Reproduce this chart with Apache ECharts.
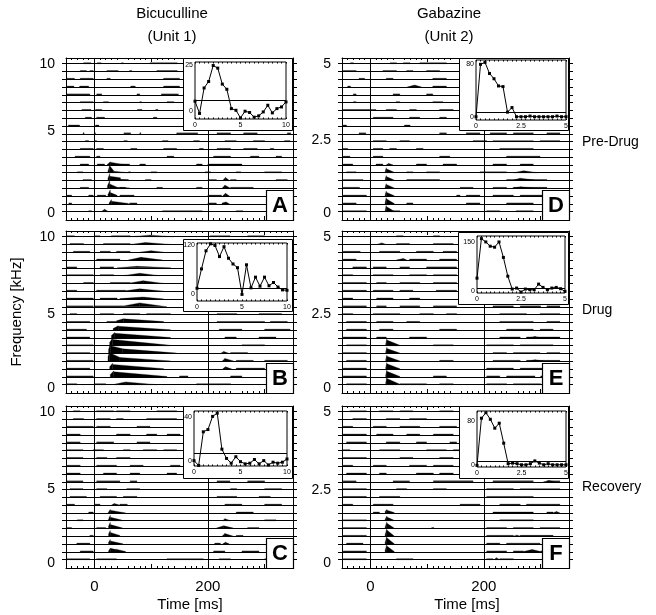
<!DOCTYPE html>
<html>
<head>
<meta charset="utf-8">
<script src="https://cdn.jsdelivr.net/npm/echarts@6/dist/echarts.min.js"></script>
<style>
html, body { margin: 0; padding: 0; background: #fff; }
#chart { width: 656px; height: 615px; }
</style>
</head>
<body>
<div id="chart"></div>
<script>
// trace index 0 = lowest frequency (bottom line of a panel)
const traceIds = [0, 1, 2, 3, 4, 5, 6, 7, 8, 9, 10, 11, 12, 13, 14, 15, 16, 17, 18, 19];
const vlineTimes = [0, 200];
const xTickMajor = [0, 100, 200, 300];
const xTickText = [0, 200];
const yTextLeft = ['0', '5', '10'];
const yTextRight = ['0', '2.5', '5'];

// small spike-count dashes per trace: [t0, t1, t0, t1, ...] in ms
const dashA = [
  [-10, -5, 120, 190, 250, 262],
  [-45, -40, 62, 75, 200, 215],
  [-50, -40, -10, -2, 5, 20, 45, 70, 200, 224],
  [-25, -10, 45, 55, 110, 120, 180, 190, 240, 280],
  [-20, -5, 45, 60, 90, 100, 200, 215, 240, 250, 320, 340],
  [-30, -20, 60, 64, 100, 110, 195, 205, 250, 258, 300, 330],
  [-25, -10, 5, 18, 40, 62, 80, 90, 180, 190, 200, 260],
  [-34, -8, 4, 10, 128, 140, 210, 240, 275, 290, 320, 330],
  [-25, -2, 4, 16, 64, 75, 122, 145, 185, 192, 216, 240, 263, 287, 310, 316],
  [-16, -10, 0, 4, 52, 58, 120, 130, 175, 185, 230, 250, 280, 300, 335, 345],
  [-20, -18, 0, 2, 52, 64, 80, 82, 145, 182, 216, 240, 263, 287, 340, 346],
  [-46, -26, 2, 8],
  [-16, -5, 4, 18, 104, 110],
  [-22, -6, 2, 13, 76, 84, 108, 112],
  [-25, -2, 16, 25, 80, 83, 128, 140],
  [-49, -8, 4, 13, 75, 80, 118, 148],
  [-48, -36, -26, -10, 64, 72, 122, 150],
  [-49, -35, -25, -2, 22, 28, 122, 150],
  [-25, -14, -8, -2, 22, 42, 62, 66, 110, 146],
  [-19, -6, 5, 12, 48, 51, 98, 146]
];
const dashB = [
  [-49, -31, 0, 20, 180, 240],
  [-49, -2, 150, 165, 240, 260],
  [-49, -8, 250, 300],
  [-49, -2, 250, 280, 300, 340],
  [-49, -8, 240, 270],
  [-49, -2, 260, 300],
  [-49, -8, 230, 250, 290, 320],
  [-49, -14, 220, 260, 300, 345],
  [-49, -8, 22, 39, 216, 300, 310, 340],
  [-43, -31, 10, 34, 51, 80, 92, 134, 216, 251, 290, 330],
  [-49, -2, 0, 51],
  [-49, -2, 10, 40],
  [-49, -31, 4, 55],
  [-19, -2, 28, 63],
  [-49, -2, 10, 34],
  [-49, -31, 10, 34],
  [4, 45],
  [-37, -8, 10, 28, 39, 63],
  [-43, -19, 16, 63],
  [-49, -35, 0, 10, 30, 63, 204, 239, 270, 300]
];
const dashC = [
  [-49, -8, 4, 39, 128, 192, 220, 240, 300, 330],
  [-25, -2, 210, 230, 260, 290],
  [-31, -8, 212, 222],
  [-8, -2, 250, 262],
  [-49, -40, 4, 20, 270, 290],
  [-30, -20, 300, 320],
  [-10, -2, 250, 280],
  [-49, -35, 0, 10, 45, 58, 230, 260, 300, 330],
  [-43, -14, 10, 39, 51, 75, 216, 251, 290, 310],
  [-43, -20, 4, 22, 57, 80, 240, 251, 300, 330],
  [-49, -20, 4, 45, 63, 75, 216, 239, 270, 300],
  [-49, -25, 16, 39, 63, 80, 128, 145],
  [-49, -25, 4, 39, 63, 86, 134, 151],
  [-49, -20, 4, 22, 39, 63],
  [-49, -20, -2, 16, 51, 63, 86, 110, 122, 145],
  [-49, -25, 4, 34, 75, 98],
  [-49, -25, 39, 63, 92, 110, 128, 151],
  [-49, -2, 4, 28, 75, 98],
  [-37, -19, 4, 28, 39, 51, 92, 145],
  [-37, -25, 4, 34, 39, 63, 110, 145]
];
const dashD = [
  [-48, -7, 40, 52, 205, 228, 257, 287],
  [-48, -25, 64, 75, 169, 193, 240, 287],
  [-48, -7, 152, 158, 169, 193, 216, 252, 264, 311],
  [-48, -19, 158, 181, 216, 240, 252, 311],
  [-48, -13, 64, 122, 240, 311],
  [-42, -25, 64, 75, 99, 122, 193, 240],
  [-48, -31, 10, 22, 81, 99, 128, 152, 216, 240, 264, 287],
  [-48, -36, 5, 22, 122, 140, 240, 299],
  [-48, -40, 5, 22, 34, 46, 81, 93, 228, 287],
  [5, 28, 52, 69, 181, 205, 216, 287, 299, 334],
  [-20, -8, 122, 134, 169, 193, 211, 240, 252, 287, 311, 334],
  [-48, -42, 60, 70],
  [5, 40, 69, 87, 122, 134],
  [-48, 10, 28, 46, 69, 81, 122, 146],
  [-30, -25, 45, 52, 110, 128],
  [-30, -25, 40, 52, 99, 110],
  [-40, -35, 110, 134],
  [-20, -10, 28, 40, 110, 134],
  [-48, -25, 22, 46, 64, 75, 99, 122],
  [-35, -30, 35, 46, 58, 70, 87, 134]
];
const dashE = [
  [-42, -7, 52, 99, 122, 146, 205, 240, 252, 300, 311, 334],
  [-48, -7, 111, 134, 205, 228, 240, 290, 300, 334],
  [-48, -7, 205, 252, 264, 311, 322, 334],
  [-42, -7, 122, 146, 216, 264, 275, 334],
  [-48, -7, 216, 240, 252, 299, 311, 334],
  [-42, -7, 111, 146, 205, 252, 264, 322],
  [-48, -7, 11, 28, 69, 99, 228, 264, 275, 334],
  [-42, -7, 16, 40, 122, 152, 240, 287, 299, 322],
  [-42, -7, 11, 40, 64, 87, 228, 287, 311, 334],
  [-48, -31, 5, 52, 87, 111, 134, 152, 228, 275, 299, 334],
  [-48, -7, 11, 28, 52, 87, 111, 152, 216, 252, 264, 300, 311, 334],
  [-48, -31, 11, 40, 69, 87],
  [-48, -7, 5, 40, 52, 75, 116, 152],
  [-48, -7, 11, 28, 52, 87, 111, 152],
  [-48, -31, 5, 40, 69, 99, 111, 152],
  [-31, -7, 5, 28, 52, 69, 99, 152],
  [-48, -25, 69, 99, 122, 152],
  [-48, -18, 16, 52, 81, 111, 128, 152],
  [46, 69, 111, 146],
  [46, 58, 111, 122]
];
const dashF = [
  [-48, -7, 46, 75, 205, 216, 228, 252],
  [-48, -7, 205, 240, 252, 270, 300, 310],
  [-42, -13, 205, 228, 240, 299],
  [-48, -7, 205, 252, 264, 322],
  [-48, -7, 108, 112, 205, 240, 252, 287, 299, 334],
  [-48, -7, 228, 287],
  [5, 16, 216, 287, 311, 322],
  [-48, -31, 5, 40, 158, 193, 228, 264, 275, 334],
  [-48, -7, 16, 52, 205, 287],
  [-48, -7, 46, 64, 111, 134, 205, 252, 264, 334],
  [-48, -25, 40, 69, 111, 181, 216, 287, 311, 334],
  [-42, -7, 16, 28, 81, 111, 122, 146],
  [-48, -31, 5, 28, 69, 99, 111, 146],
  [-48, -7, 52, 75, 122, 146],
  [-48, -36, 16, 52, 99, 134, 146, 158],
  [-42, -7, 28, 52, 81, 99, 140, 152],
  [-48, -7, 11, 40, 64, 87, 111, 146],
  [-48, -31, 5, 28, 52, 87, 122, 152],
  [-31, -7, 28, 52, 69, 99],
  [-36, -7, 16, 40, 52, 75, 122, 146]
];

// response shapes: [trace, t0, t1, height at t0, height at t1] (height in trace spacings)
const peakA = [
  [0, 12, 18, 0, 0.3], [0, 18, 25, 0.3, 0],
  [1, 26, 30, 0.1, 0.55], [1, 30, 60, 0.35, 0.05], [1, 225, 232, 0.1, 0.25], [1, 232, 238, 0.25, 0],
  [2, 24, 28, 0.2, 0.8], [2, 28, 40, 0.45, 0.1], [2, 226, 231, 0, 0.35], [2, 231, 238, 0.35, 0],
  [3, 23, 27, 0.3, 1.0], [3, 27, 40, 0.55, 0.15], [3, 40, 62, 0.12, 0.05], [3, 225, 230, 0, 0.4], [3, 230, 240, 0.4, 0],
  [4, 24, 27, 0.3, 0.9], [4, 27, 46, 0.55, 0.35], [4, 46, 60, 0.12, 0.05], [4, 226, 231, 0, 0.4], [4, 231, 238, 0.4, 0],
  [5, 24, 27, 0.2, 0.95], [5, 27, 34, 0.9, 0.25], [5, 34, 60, 0.2, 0],
  [6, 22, 28, 0, 0.4], [6, 28, 55, 0.35, 0]
];
const peakB = [
  [0, 35, 55, 0.05, 0.35], [0, 55, 110, 0.35, 0],
  [1, 28, 34, 0.3, 0.75], [1, 34, 128, 0.65, 0.05],
  [2, 27, 32, 0.3, 0.75], [2, 32, 122, 0.6, 0.05], [2, 226, 231, 0, 0.3], [2, 231, 242, 0.3, 0],
  [3, 24, 27, 0.6, 1.3], [3, 27, 45, 1.1, 0.5], [3, 45, 134, 0.5, 0.05], [3, 225, 230, 0, 0.35], [3, 230, 245, 0.35, 0.05],
  [4, 25, 28, 0.5, 1.2], [4, 28, 50, 1.0, 0.6], [4, 50, 145, 0.6, 0.05], [4, 222, 228, 0, 0.25], [4, 228, 238, 0.25, 0],
  [5, 27, 32, 0.4, 1.0], [5, 32, 134, 0.8, 0.05],
  [6, 30, 36, 0.3, 0.7], [6, 36, 134, 0.6, 0.05],
  [7, 33, 42, 0.2, 0.55], [7, 42, 134, 0.5, 0.05],
  [8, 39, 51, 0.2, 0.45], [8, 51, 122, 0.45, 0.1],
  [10, 51, 80, 0.1, 0.5], [10, 80, 128, 0.5, 0],
  [11, 45, 86, 0.05, 0.25], [11, 86, 122, 0.25, 0],
  [12, 55, 80, 0.05, 0.3], [12, 80, 122, 0.3, 0],
  [13, 63, 86, 0.05, 0.35], [13, 86, 122, 0.35, 0],
  [14, 50, 80, 0, 0.3], [14, 80, 115, 0.3, 0],
  [15, 40, 75, 0, 0.2], [15, 75, 135, 0.2, 0],
  [16, 60, 82, 0, 0.35], [16, 82, 120, 0.35, 0],
  [17, 80, 100, 0, 0.2], [17, 100, 122, 0.2, 0],
  [18, 63, 90, 0, 0.25], [18, 90, 135, 0.25, 0],
  [19, 63, 98, 0, 0.2], [19, 98, 140, 0.2, 0]
];
const peakC = [
  [1, 25, 28, 0.1, 0.45], [1, 28, 38, 0.45, 0.3], [1, 38, 55, 0.35, 0.05],
  [2, 25, 28, 0.2, 0.6], [2, 28, 50, 0.4, 0.05], [2, 226, 231, 0, 0.25], [2, 231, 238, 0.25, 0],
  [3, 25, 28, 0.3, 0.75], [3, 28, 45, 0.5, 0.1], [3, 225, 230, 0, 0.35], [3, 230, 245, 0.35, 0],
  [4, 25, 28, 0.3, 0.8], [4, 28, 50, 0.5, 0.05], [4, 215, 228, 0.05, 0.35], [4, 228, 245, 0.35, 0.05],
  [5, 25, 28, 0.2, 0.7], [5, 28, 50, 0.45, 0.05], [5, 226, 230, 0, 0.25], [5, 230, 240, 0.25, 0],
  [6, 24, 28, 0, 0.45], [6, 28, 55, 0.35, 0],
  [7, 30, 35, 0, 0.2], [7, 35, 45, 0.2, 0]
];
const peakD = [
  [0, 26, 28, 0.1, 0.8], [0, 28, 42, 0.65, 0.05],
  [1, 26, 28, 0.1, 0.8], [1, 28, 42, 0.65, 0.05],
  [2, 26, 28, 0.1, 0.65], [2, 28, 42, 0.5, 0.05],
  [3, 26, 28, 0.1, 0.6], [3, 28, 42, 0.5, 0.05],
  [4, 26, 28, 0.1, 0.65], [4, 28, 42, 0.5, 0.05],
  [5, 26, 28, 0.1, 0.65], [5, 28, 42, 0.5, 0.05],
  [6, 28, 32, 0, 0.2], [6, 32, 40, 0.2, 0],
  [16, 65, 78, 0, 0.25], [16, 78, 90, 0.25, 0],
  [5, 252, 270, 0, 0.25], [5, 270, 295, 0.25, 0],
  [4, 252, 264, 0.05, 0.3], [4, 264, 290, 0.3, 0.05],
  [3, 250, 265, 0, 0.2], [3, 265, 290, 0.2, 0]
];
const peakE = [
  [0, 27, 29, 0.2, 1.0], [0, 29, 52, 0.8, 0.05],
  [1, 27, 29, 0.2, 0.9], [1, 29, 52, 0.72, 0.05],
  [2, 27, 29, 0.2, 0.85], [2, 29, 52, 0.68, 0.05],
  [3, 27, 29, 0.2, 0.8], [3, 29, 52, 0.64, 0.05],
  [4, 27, 29, 0.2, 0.8], [4, 29, 52, 0.64, 0.05],
  [5, 27, 29, 0.2, 0.9], [5, 29, 52, 0.72, 0.05],
  [16, 46, 58, 0, 0.2], [16, 58, 64, 0.2, 0],
  [18, 11, 20, 0, 0.2], [18, 20, 28, 0.2, 0],
  [6, 280, 290, 0, 0.2], [6, 290, 300, 0.2, 0],
  [3, 280, 290, 0.05, 0.2], [3, 290, 305, 0.2, 0.05]
];
const peakF = [
  [1, 26, 29, 0.2, 0.95], [1, 29, 42, 0.76, 0.05],
  [2, 26, 29, 0.2, 1.0], [2, 29, 42, 0.8, 0.05],
  [3, 26, 29, 0.2, 1.0], [3, 29, 42, 0.8, 0.05],
  [4, 26, 29, 0.2, 0.85], [4, 29, 42, 0.68, 0.05],
  [5, 26, 29, 0.2, 0.6], [5, 29, 42, 0.48, 0.05],
  [6, 26, 29, 0.2, 0.45], [6, 29, 42, 0.36, 0.05],
  [0, 218, 222, 0, 0.25], [0, 222, 228, 0.25, 0],
  [1, 270, 285, 0.05, 0.3], [1, 285, 300, 0.3, 0.05],
  [3, 252, 258, 0, 0.15], [3, 258, 265, 0.15, 0],
  [6, 322, 328, 0, 0.2], [6, 328, 334, 0.2, 0],
  [10, 305, 315, 0, 0.15], [10, 315, 325, 0.15, 0]
];

// insets
const insetX10 = [0, 0.5, 1, 1.5, 2, 2.5, 3, 3.5, 4, 4.5, 5, 5.5, 6, 6.5, 7, 7.5, 8, 8.5, 9, 9.5, 10];
const insetX5 = [0, 0.25, 0.5, 0.75, 1, 1.25, 1.5, 1.75, 2, 2.25, 2.5, 2.75, 3, 3.25, 3.5, 3.75, 4, 4.25, 4.5, 4.75, 5];
const insetA = [5.4, -1.2, 12.5, 16, 24.6, 23.2, 14.6, 11.8, 1.4, 0.5, -3.6, 0, -0.7, -3.2, -2.5, -0.4, 3.2, -0.9, 1.4, 2.3, 5];
const insetB = [14, 61, 105, 122, 118, 91, 115, 87, 73, 64, -1, 71, 15, 41, 19, 41, 20, 28, 17, 10, 9];
const insetC = [0, -4.5, 26.7, 28.8, 41, 44, 10.6, 2, -2.4, 3.6, -1, -3, -2.4, 1, -3, 0, -4, -1.5, -2.4, -1.5, 1.5];
const insetD = [0, 80, 83, 66, 58, 47, 46, 7, 14, 0, 0, 0, 1, 0, 0, 0, 0, 0, 1, 0, 0];
const insetE = [40, 160, 150, 137, 134, 150, 103, 46, 7, 10, -2, 7, 5, 5, 22, 12, 5, 10, 12, 8, 0];
const insetF = [0, 85, 95, 83, 67, 76, 40, 3, 4, 3, 1, 1, 3, 8, 4, 1, 3, 1, 1, 1, 1];
const insetBase = { A: 6.1, B: 14, C: 7, D: 6.1, E: 9.1, F: 7 };
const insetYText = { A: [0, 25], B: [0, 120], C: [0, 40], D: [0, 80], E: [0, 150], F: [0, 80] };
const insetXText10 = [0, 5, 10];
const insetXText5 = [0, 2.5, 5];

const FONT = '"Liberation Sans", Arial, Helvetica, sans-serif';
const X_MIN = -50, X_MAX = 350;
const Y_MIN = -1.07, Y_MAX = 19.73;
const DASH_H = 0.12;
const PW = 227, PH = 162;

const panels = [
  { key: 'A', row: 0, left: 66, top: 58, dash: dashA, peak: peakA, yPos: [-0.2, 10.4, 19], yText: yTextLeft,
    ins: insetA, xs: insetX10, xt: insetXText10, ymin: -4.2, ymax: 26.5, box: [183, 58, 110, 72], inner: [195, 62, 91, 57] },
  { key: 'B', row: 1, left: 66, top: 231, dash: dashB, peak: peakB, yPos: [-0.4, 9.1, 19], yText: yTextLeft,
    ins: insetB, xs: insetX10, xt: insetXText10, ymin: -17, ymax: 124, box: [183, 239, 110, 72], inner: [197, 243, 90, 58] },
  { key: 'C', row: 2, left: 66, top: 406, dash: dashC, peak: peakC, yPos: [-0.4, 9.0, 19], yText: yTextLeft,
    ins: insetC, xs: insetX10, xt: insetXText10, ymin: -5, ymax: 46, box: [183, 406, 110, 72], inner: [194, 411, 93, 55] },
  { key: 'D', row: 0, left: 342, top: 58, dash: dashD, peak: peakD, yPos: [-0.2, 9.2, 19], yText: yTextRight,
    ins: insetD, xs: insetX5, xt: insetXText5, ymin: -5, ymax: 86.6, box: [459, 58, 110, 72], inner: [476, 60, 90, 60] },
  { key: 'E', row: 1, left: 342, top: 231, dash: dashE, peak: peakE, yPos: [-0.4, 9.0, 19], yText: yTextRight,
    ins: insetE, xs: insetX5, xt: insetXText5, ymin: -5, ymax: 168, box: [458, 232, 111, 72], inner: [477, 236, 88, 57] },
  { key: 'F', row: 2, left: 342, top: 406, dash: dashF, peak: peakF, yPos: [-0.4, 8.9, 19], yText: yTextRight,
    ins: insetF, xs: insetX5, xt: insetXText5, ymin: -3, ymax: 98, box: [459, 406, 110, 72], inner: [477, 411, 89, 56] }
];

const chart = echarts.init(document.getElementById('chart'), null, { renderer: 'canvas' });
const grids = [], xAxes = [], yAxes = [], series = [], graphics = [];
const black = { color: '#000', width: 1 };

function shapesOf(p) {
  const out = [];
  p.dash.forEach((row, i) => {
    for (let k = 0; k < row.length; k += 2) out.push([i, row[k], row[k + 1], DASH_H, DASH_H]);
  });
  p.peak.forEach(s => out.push(s));
  return out;
}

function renderShape(params, api) {
  const i = api.value(0), t0 = api.value(1), t1 = api.value(2);
  const pts = [
    api.coord([t0, i]), api.coord([t0, i + api.value(3)]),
    api.coord([t1, i + api.value(4)]), api.coord([t1, i])
  ];
  return { type: 'polygon', shape: { points: pts }, style: { fill: '#000', stroke: '#000', lineWidth: 0.3 } };
}

function addPanel(p) {
  const g = grids.length;
  const bottomRow = p.row === 2;
  grids.push({ left: p.left, top: p.top, width: PW, height: PH });
  const xi = xAxes.length, yi = yAxes.length;
  const xCommon = {
    gridIndex: g, type: 'value', min: X_MIN, max: X_MAX, interval: 50,
    splitLine: { show: false },
    axisLine: { show: true, onZero: false, lineStyle: black },
    axisTick: { show: true, inside: true, length: 4, customValues: xTickMajor, lineStyle: black },
    minorTick: { show: true, splitNumber: 5, length: 2, lineStyle: black }
  };
  xAxes.push(Object.assign({}, xCommon, {
    position: 'bottom',
    axisLabel: bottomRow ? { show: true, customValues: xTickText, color: '#000', fontSize: 15, fontFamily: FONT, margin: 11 } : { show: false }
  }));
  xAxes.push(Object.assign({}, xCommon, { position: 'top', axisLabel: { show: false } }));
  const labelMap = {};
  p.yPos.forEach((v, k) => { labelMap[v.toFixed(2)] = p.yText[k]; });
  const yCommon = {
    gridIndex: g, type: 'value', min: Y_MIN, max: Y_MAX,
    splitLine: { show: false },
    axisLine: { show: true, onZero: false, lineStyle: black },
    axisTick: { show: true, inside: false, length: 4, customValues: traceIds, lineStyle: black }
  };
  yAxes.push(Object.assign({}, yCommon, {
    position: 'left',
    axisLabel: { show: true, customValues: p.yPos, color: '#000', fontSize: 14, fontFamily: FONT, margin: 11,
      formatter: v => labelMap[Number(v).toFixed(2)] || '' }
  }));
  yAxes.push(Object.assign({}, yCommon, { position: 'right', axisLabel: { show: false } }));

  series.push({
    type: 'line', xAxisIndex: xi, yAxisIndex: yi, data: [], silent: true, animation: false,
    markLine: {
      silent: true, animation: false, symbol: ['none', 'none'], label: { show: false },
      lineStyle: { color: '#000', width: 1, type: 'solid' },
      data: traceIds.map(v => ({ yAxis: v })).concat(vlineTimes.map(v => ({ xAxis: v })))
    }
  });
  series.push({
    type: 'custom', xAxisIndex: xi, yAxisIndex: yi, clip: true, silent: true, animation: false,
    renderItem: renderShape, data: shapesOf(p)
  });

  // inset
  graphics.push({ type: 'rect', z: 100, shape: { x: p.box[0] + 0.5, y: p.box[1] + 0.5, width: p.box[2] - 1, height: p.box[3] }, style: { fill: '#fff', stroke: '#000', lineWidth: 1 } });
  const ig = grids.length;
  grids.push({ left: p.inner[0], top: p.inner[1], width: p.inner[2], height: p.inner[3], show: true,
    backgroundColor: '#fff', borderColor: '#000', borderWidth: 1, z: 101 });
  const ixi = xAxes.length, iyi = yAxes.length;
  const xmax = p.xs[p.xs.length - 1];
  const ixCommon = { gridIndex: ig, type: 'value', min: 0, max: xmax, interval: xmax / 20, z: 102,
    splitLine: { show: false }, axisLine: { show: false, onZero: false },
    axisTick: { show: true, inside: true, length: 1.5, lineStyle: black } };
  xAxes.push(Object.assign({}, ixCommon, { position: 'bottom',
    axisLabel: { show: true, customValues: p.xt, color: '#000', fontSize: 7, fontFamily: FONT, margin: 3 } }));
  xAxes.push(Object.assign({}, ixCommon, { position: 'top', axisLabel: { show: false } }));
  yAxes.push({ gridIndex: ig, type: 'value', min: p.ymin, max: p.ymax, z: 102,
    splitLine: { show: false }, axisLine: { show: false, onZero: false }, axisTick: { show: false },
    axisLabel: { show: true, customValues: insetYText[p.key], color: '#000', fontSize: 7, fontFamily: FONT, margin: 2 } });
  series.push({
    type: 'line', xAxisIndex: ixi, yAxisIndex: iyi, z: 103, silent: true, animation: false,
    data: p.xs.map((x, k) => [x, p.ins[k]]),
    symbol: 'rect', symbolSize: 3, itemStyle: { color: '#000' }, lineStyle: { color: '#000', width: 1 },
    markLine: { z: 104, silent: true, animation: false, symbol: ['none', 'none'], label: { show: false },
      lineStyle: { color: '#000', width: 1, type: 'solid' }, data: [{ yAxis: insetBase[p.key] }] }
  });

  // letter box
  const bx = p.left + PW - 27, by = p.top + PH - 30;
  graphics.push({ type: 'rect', z: 100, shape: { x: bx + 0.5, y: by + 0.5, width: 27, height: 30 }, style: { fill: '#fff', stroke: '#000', lineWidth: 1.2 } });
  graphics.push({ type: 'text', z: 101, x: bx + 14, y: by + 16,
    style: { text: p.key, font: 'bold 22px ' + FONT, fill: '#000', align: 'center', verticalAlign: 'middle', textAlign: 'center', textVerticalAlign: 'middle' } });
}

panels.forEach(addPanel);

function label(text, x, y, align, size, rot) {
  graphics.push({ type: 'text', z: 101, x: x, y: y, rotation: rot || 0,
    style: { text: text, font: size + 'px ' + FONT, fill: '#000', align: align, verticalAlign: 'middle', textAlign: align, textVerticalAlign: 'middle' } });
}
label('Bicuculline', 172, 14, 'center', 15);
label('(Unit 1)', 172, 37, 'center', 15);
label('Gabazine', 449, 14, 'center', 15);
label('(Unit 2)', 449, 37, 'center', 15);
label('Pre-Drug', 582, 142, 'left', 14);
label('Drug', 582, 310, 'left', 14);
label('Recovery', 582, 487, 'left', 14);
label('Time [ms]', 190, 605, 'center', 15);
label('Time [ms]', 467, 605, 'center', 15);
label('Frequency [kHz]', 17, 312, 'center', 15, Math.PI / 2);

chart.setOption({
  animation: false,
  backgroundColor: '#fff',
  grid: grids,
  xAxis: xAxes,
  yAxis: yAxes,
  series: series,
  graphic: { elements: graphics }
});
</script>
</body>
</html>
